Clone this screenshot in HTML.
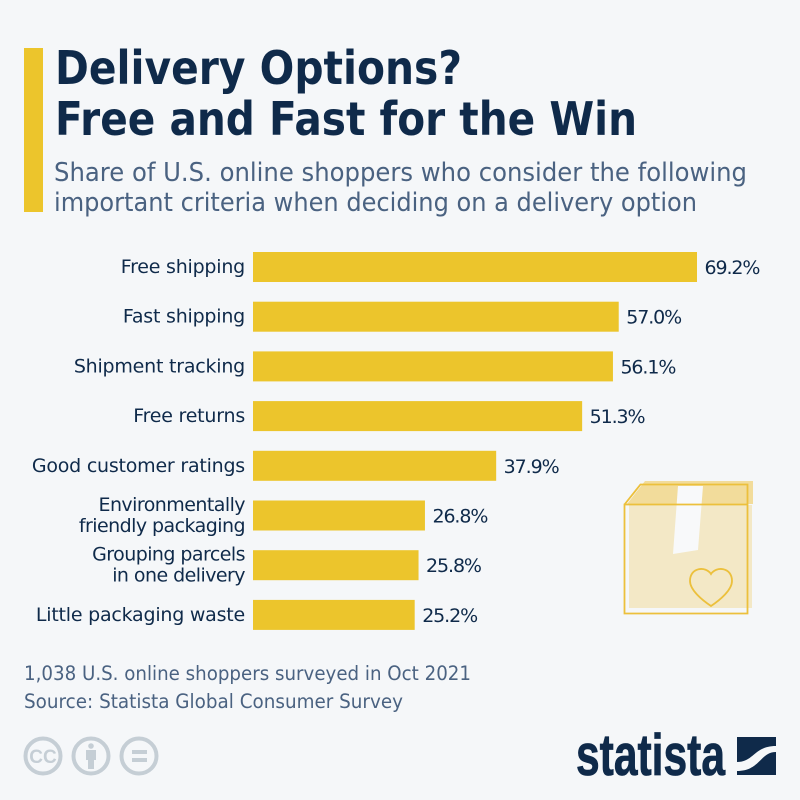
<!DOCTYPE html>
<html lang="en">
<head>
<meta charset="utf-8">
<title>Delivery Options? Free and Fast for the Win</title>
<style>
html,body{margin:0;padding:0;background:#f5f7f9;}
svg{display:block;font-family:"DejaVu Sans","Liberation Sans",sans-serif;}
</style>
</head>
<body>
<svg id="chart" xmlns="http://www.w3.org/2000/svg" width="800" height="800" viewBox="0 0 800 800">
  <rect width="800" height="800" fill="#f5f7f9"/>
  <rect x="24" y="48" width="19" height="164" fill="#ecc52c"/>
  <text x="55" y="84" font-size="46" font-weight="700" fill="#0f2a4a" textLength="407" lengthAdjust="spacingAndGlyphs">Delivery Options?</text>
  <text x="55" y="135" font-size="46" font-weight="700" fill="#0f2a4a" textLength="582" lengthAdjust="spacingAndGlyphs">Free and Fast for the Win</text>
  <text x="54" y="181" font-size="26" fill="#4a6281" textLength="693" lengthAdjust="spacingAndGlyphs">Share of U.S. online shoppers who consider the following</text>
  <text x="54" y="211" font-size="26" fill="#4a6281" textLength="643" lengthAdjust="spacingAndGlyphs">important criteria when deciding on a delivery option</text>

  <g id="bars"></g>

  <g>
    <polygon points="629,505 752,505 752,608 629,608" fill="#f3e8c6"/>
    <polygon points="645,481 753,481 753,504 627,504" fill="#f2dc9b"/>
    <polygon points="678,486 703,486 698,550 673,554" fill="#f8f9fa"/>
    <path d="M624.500 504.500H747.500V613.500H624.500ZM624.500 504.500L640.500 484.500H747.500V504.500" fill="none" stroke="#ecc03c" stroke-width="1.800"/>
    <path d="M711 574C706 566 690 567 690 581C690 590 702 600 711 606C720 600 732 590 732 581C732 567 716 566 711 574Z" fill="none" stroke="#ecc03c" stroke-width="1.800"/>
  </g>

  <text x="24" y="680" font-size="19.500" fill="#4a6281" textLength="447" lengthAdjust="spacingAndGlyphs">1,038 U.S. online shoppers surveyed in Oct 2021</text>
  <text x="24" y="708" font-size="19.500" fill="#4a6281" textLength="379" lengthAdjust="spacingAndGlyphs">Source: Statista Global Consumer Survey</text>

  <g>
    <circle cx="43" cy="756" r="17.500" fill="none" stroke="#c5ced5" stroke-width="4"/>
    <text x="43" y="763" font-size="19" font-weight="700" fill="#c5ced5" text-anchor="middle" font-family="Liberation Sans, sans-serif">CC</text>
  </g>
  <g>
    <circle cx="91" cy="756" r="17.500" fill="none" stroke="#c5ced5" stroke-width="4"/>
    <circle cx="91" cy="746" r="2.800" fill="#c5ced5"/>
    <path d="M86 750H96V760H94V769H88V760H86Z" fill="#c5ced5"/>
  </g>
  <g>
    <circle cx="139" cy="756" r="17.500" fill="none" stroke="#c5ced5" stroke-width="4"/>
    <rect x="132" y="750" width="15" height="4" fill="#c5ced5"/>
    <rect x="132" y="758" width="15" height="4" fill="#c5ced5"/>
  </g>

  <text x="576" y="775" font-size="58" font-weight="700" fill="#0f2a4a" stroke="#0f2a4a" stroke-width="0.800" font-family="Liberation Sans, sans-serif" textLength="149" lengthAdjust="spacingAndGlyphs">statista</text>
  <g>
    <rect x="737" y="737" width="39" height="38" fill="#0f2a4a"/>
    <path d="M737 762C754 762 754 746 776 746V752C760 752 760 771 737 771Z" fill="#f5f7f9"/>
  </g>
</svg>
<script>
var categories = ["Free shipping", "Fast shipping", "Shipment tracking", "Free returns", "Good customer ratings", "Environmentally\nfriendly packaging", "Grouping parcels\nin one delivery", "Little packaging waste"];
var shares = [69.2, 57.0, 56.1, 51.3, 37.9, 26.8, 25.8, 25.2];

var NS = 'http://www.w3.org/2000/svg';
var group = document.getElementById('bars');

function xScale(v) { return v * 444 / 69.2; }
function yBand(i) { return 252 + i * 49.7; }

function addText(content, x, y, anchor, spacing) {
  var t = document.createElementNS(NS, 'text');
  t.setAttribute('x', x);
  t.setAttribute('y', y);
  t.setAttribute('font-size', '19');
  t.setAttribute('letter-spacing', spacing);
  t.setAttribute('text-anchor', anchor);
  t.setAttribute('fill', '#0f2a4a');
  t.textContent = content;
  group.appendChild(t);
  return t;
}

categories.forEach(function (category, i) {
  var top = yBand(i);
  var bar = document.createElementNS(NS, 'rect');
  
  
  bar.setAttribute('x', 253);
  bar.setAttribute('y', top);
  bar.setAttribute('width', xScale(shares[i]));
  bar.setAttribute('height', 30);
  bar.setAttribute('fill', '#ecc52c');
  group.appendChild(bar);

  var lines = category.split('\n');
  lines.forEach(function (line, k) {
    var baseline = top + 21 + (k - (lines.length - 1) / 2) * 21;
    var label = addText(line, 245, baseline, 'end', lines.length > 1 ? '-0.55' : '-0.22');
    
    
  });

  var value = addText(shares[i].toFixed(1) + '%', 253 + xScale(shares[i]) + 7.5, top + 22, 'start', '-1.1');
  
  
});
</script>
</body>
</html>
